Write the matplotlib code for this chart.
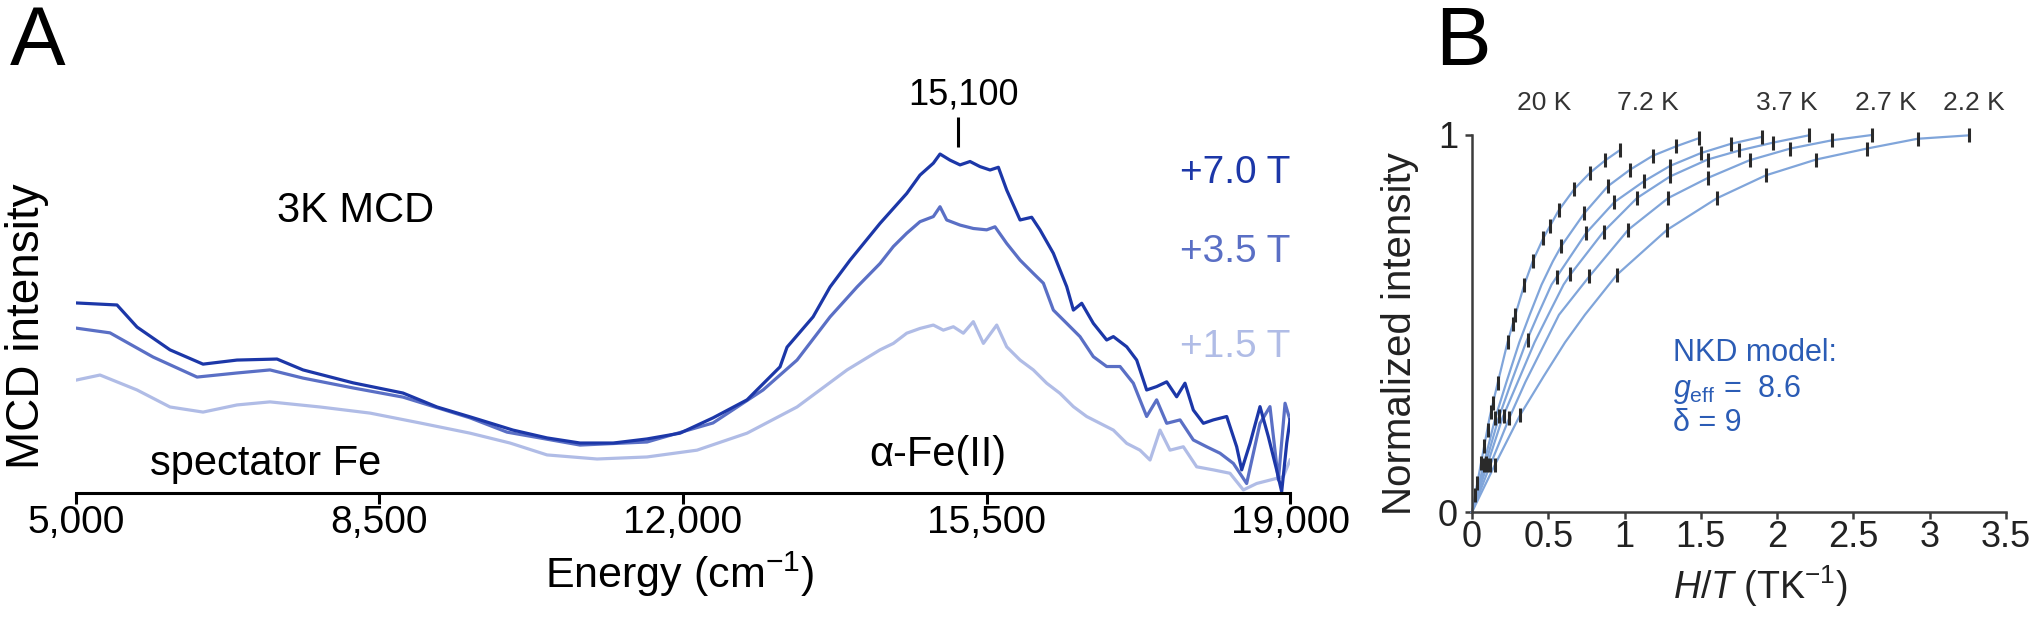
import matplotlib
matplotlib.use('Agg')
import matplotlib.pyplot as plt

plt.rcParams['font.family'] = ['Liberation Sans', 'DejaVu Sans']
plt.rcParams['mathtext.fontset'] = 'custom'
plt.rcParams['mathtext.rm'] = 'Liberation Sans'
plt.rcParams['mathtext.it'] = 'Liberation Sans:italic'

# ---- panel A: 3 K MCD spectra (energy in cm-1, intensity in arb. units)
energy_7T = [5000, 5473, 5704, 6084, 6465, 6857, 7318, 7618, 8195, 8771, 9163, 9544, 9659, 10040,
             10432, 10813, 11197, 11585, 11966, 12346, 12739, 13119, 13200, 13500, 13696, 13927,
             14272, 14426, 14580, 14733, 14887, 14964, 15079, 15195, 15310, 15425, 15541, 15637,
             15733, 15887, 16021, 16117, 16271, 16425, 16502, 16598, 16732, 16886, 16963, 17117,
             17232, 17347, 17462, 17578, 17693, 17789, 17885, 18001, 18116, 18270, 18385, 18443,
             18539, 18654, 18750, 18846, 18904, 18962, 19000]
mcd_7T = [0.559, 0.553, 0.488, 0.421, 0.379, 0.391, 0.394, 0.362, 0.324, 0.294, 0.253, 0.224, 0.215,
          0.185, 0.162, 0.147, 0.147, 0.159, 0.176, 0.221, 0.274, 0.371, 0.429, 0.518, 0.606, 0.685,
          0.793, 0.837, 0.881, 0.935, 0.970, 0.997, 0.979, 0.965, 0.975, 0.960, 0.950, 0.958, 0.891,
          0.803, 0.811, 0.774, 0.705, 0.607, 0.538, 0.558, 0.499, 0.450, 0.460, 0.430, 0.391, 0.303,
          0.313, 0.327, 0.283, 0.323, 0.244, 0.205, 0.215, 0.225, 0.136, 0.068, 0.146, 0.254, 0.166,
          0.068, 0.004, 0.146, 0.215]

energy_35T = [5000, 5392, 5888, 6396, 6857, 7237, 7618, 8195, 8771, 9544, 9971, 10813, 11585, 12346,
              12923, 13315, 13696, 14007, 14272, 14426, 14580, 14733, 14887, 14964, 15041, 15195,
              15348, 15502, 15598, 15733, 15887, 16040, 16156, 16271, 16425, 16578, 16732, 16886,
              17040, 17193, 17347, 17462, 17578, 17732, 17885, 18039, 18193, 18347, 18500, 18654,
              18769, 18866, 18943, 19000]
mcd_35T = [0.485, 0.471, 0.400, 0.341, 0.353, 0.362, 0.338, 0.309, 0.282, 0.221, 0.179, 0.141, 0.150,
           0.206, 0.303, 0.391, 0.518, 0.606, 0.675, 0.725, 0.764, 0.798, 0.813, 0.842, 0.803, 0.788,
           0.778, 0.774, 0.783, 0.734, 0.685, 0.646, 0.617, 0.538, 0.499, 0.460, 0.401, 0.372, 0.372,
           0.323, 0.225, 0.274, 0.205, 0.215, 0.156, 0.136, 0.117, 0.087, 0.028, 0.205, 0.254, 0.038,
           0.264, 0.215]

energy_15T = [5000, 5277, 5704, 6084, 6465, 6857, 7237, 7814, 8391, 8967, 9544, 10005, 10432, 11009,
              11585, 12162, 12739, 13315, 13892, 14272, 14426, 14580, 14733, 14887, 15002, 15118,
              15233, 15348, 15464, 15618, 15733, 15887, 16040, 16194, 16348, 16502, 16655, 16809,
              16963, 17117, 17270, 17386, 17501, 17616, 17770, 17924, 18116, 18308, 18462, 18616,
              18769, 18923, 19000]
mcd_15T = [0.332, 0.347, 0.303, 0.253, 0.238, 0.259, 0.268, 0.253, 0.235, 0.206, 0.176, 0.147, 0.112,
           0.100, 0.106, 0.126, 0.176, 0.253, 0.362, 0.421, 0.440, 0.470, 0.484, 0.494, 0.479, 0.489,
           0.470, 0.504, 0.440, 0.494, 0.430, 0.391, 0.362, 0.323, 0.293, 0.254, 0.225, 0.205, 0.185,
           0.146, 0.126, 0.097, 0.185, 0.126, 0.136, 0.077, 0.068, 0.058, 0.009, 0.028, 0.038, 0.048,
           0.097]

field_labels = ['+7.0 T', '+3.5 T', '+1.5 T']
field_colors = ['#1c37a8', '#5a6fc5', '#b0bce6']
field_label_y = [0.94, 0.71, 0.43]
energy_ticks = [5000, 8500, 12000, 15500, 19000]
energy_ticklabels = ['5,000', '8,500', '12,000', '15,500', '19,000']
peak_energy = 15170

# ---- panel B: VTVH saturation, fitted NKD curves (H/T in T/K, normalized intensity)
fit_ht = [
    [0, 0.057, 0.115, 0.17, 0.233, 0.284, 0.343, 0.398, 0.468, 0.568, 0.671, 0.774, 0.874, 0.97],
    [0, 0.076, 0.153, 0.226, 0.31, 0.378, 0.456, 0.53, 0.585, 0.737, 0.89, 1.036, 1.185, 1.338, 1.49],
    [0, 0.087, 0.175, 0.258, 0.354, 0.432, 0.521, 0.748, 0.933, 1.126, 1.298, 1.5, 1.70, 1.899],
    [0, 0.10, 0.20, 0.30, 0.41, 0.50, 0.60, 0.645, 0.863, 1.082, 1.298, 1.545, 1.753, 1.976, 2.206],
    [0, 0.12, 0.245, 0.35, 0.48, 0.57, 0.769, 1.025, 1.287, 1.545, 1.819, 2.086, 2.36, 2.621],
    [0, 0.15, 0.315, 0.47, 0.61, 0.74, 0.949, 1.277, 1.604, 1.926, 2.256, 2.588, 2.92, 3.255],
]
fit_int = [
    [0, 0.125, 0.25, 0.345, 0.45, 0.523, 0.603, 0.665, 0.727, 0.80, 0.857, 0.90, 0.933, 0.96],
    [0, 0.125, 0.25, 0.345, 0.45, 0.523, 0.603, 0.665, 0.705, 0.793, 0.864, 0.908, 0.945, 0.97, 0.992],
    [0, 0.125, 0.25, 0.345, 0.45, 0.523, 0.603, 0.74, 0.822, 0.877, 0.918, 0.952, 0.977, 0.995],
    [0, 0.125, 0.25, 0.345, 0.45, 0.523, 0.603, 0.63, 0.744, 0.833, 0.89, 0.935, 0.959, 0.98, 0.999],
    [0, 0.125, 0.25, 0.345, 0.45, 0.523, 0.625, 0.749, 0.833, 0.886, 0.933, 0.964, 0.986, 1.0],
    [0, 0.125, 0.257, 0.36, 0.45, 0.523, 0.629, 0.748, 0.832, 0.893, 0.935, 0.964, 0.99, 0.999],
]

# measured points (drawn as vertical bars)
point_ht = [0.02, 0.035, 0.059, 0.08, 0.103, 0.124, 0.14, 0.168, 0.234, 0.267, 0.284, 0.343, 0.398,
            0.468, 0.511, 0.568, 0.671, 0.774, 0.874, 0.97,
            0.076, 0.153, 0.585, 0.737, 0.89, 1.036, 1.185, 1.338, 1.49,
            0.09, 0.18, 0.365, 0.555, 0.748, 0.933, 1.126, 1.298, 1.5, 1.70, 1.899,
            0.10, 0.21, 0.645, 0.863, 1.082, 1.298, 1.545, 1.753, 1.976, 2.206,
            0.12, 0.245, 0.769, 1.025, 1.287, 1.545, 1.819, 2.086, 2.36, 2.621,
            0.15, 0.315, 0.949, 1.277, 1.604, 1.926, 2.256, 2.588, 2.92, 3.255]
point_int = [0.044, 0.077, 0.13, 0.175, 0.218, 0.265, 0.29, 0.341, 0.452, 0.50, 0.523, 0.603, 0.665,
             0.727, 0.758, 0.80, 0.857, 0.90, 0.933, 0.96,
             0.125, 0.25, 0.705, 0.793, 0.864, 0.908, 0.945, 0.97, 0.992,
             0.13, 0.255, 0.456, 0.623, 0.74, 0.822, 0.877, 0.918, 0.952, 0.977, 0.995,
             0.125, 0.255, 0.63, 0.744, 0.833, 0.89, 0.935, 0.959, 0.98, 0.999,
             0.125, 0.25, 0.625, 0.749, 0.833, 0.886, 0.933, 0.964, 0.986, 1.0,
             0.125, 0.257, 0.629, 0.748, 0.832, 0.893, 0.935, 0.964, 0.99, 0.999]

temp_labels = ['20 K', '7.2 K', '3.7 K', '2.7 K', '2.2 K']
temp_label_ht = [0.47, 1.15, 2.06, 2.71, 3.29]
ht_ticks = [0, 0.5, 1, 1.5, 2, 2.5, 3, 3.5]
ht_ticklabels = ['0', '0.5', '1', '1.5', '2', '2.5', '3', '3.5']

W, H = 2040, 632
fig = plt.figure(figsize=(W / 100, H / 100), dpi=100)


def fx(px):
    return px / W


def fy(py):
    return 1 - py / H


# ---------------- panel A
ax = fig.add_axes([fx(76), fy(493), (1290 - 76) / W, 425 / H])
series = [(energy_7T, mcd_7T), (energy_35T, mcd_35T), (energy_15T, mcd_15T)]
for (e, m), c in zip(series[::-1], field_colors[::-1]):
    ax.plot(e, m, color=c, lw=2.3, solid_joinstyle='round')
ax.set_xlim(5000, 19000)
ax.set_ylim(0, 1.25)
for s in ['left', 'right', 'top']:
    ax.spines[s].set_visible(False)
ax.spines['bottom'].set_linewidth(2.2)
ax.set_yticks([])
ax.set_xticks(energy_ticks)
ax.set_xticklabels(energy_ticklabels)
ax.tick_params(axis='x', direction='out', length=8, width=2.2, labelsize=28, pad=1)
ax.set_facecolor('none')

for lab, c, yv in zip(field_labels, field_colors, field_label_y):
    ax.text(19000, yv, lab, color=c, fontsize=28, ha='right', va='center')
ax.text(8229, 0.829, '3K MCD', fontsize=30, ha='center', va='center')
ax.text(7191, 0.053, 'spectator Fe', fontsize=30, ha='center', va='baseline')
ax.text(14941, 0.08, '\u03b1-Fe(II)', fontsize=30, ha='center', va='baseline')
ax.vlines(peak_energy, 1.018, 1.106, color='black', lw=2.2, clip_on=False)
ax.text(15230, 1.17, '15,100', fontsize=26, ha='center', va='center', clip_on=False)

fig.text(fx(27), fy(326), 'MCD intensity', rotation=90, fontsize=33, ha='center', va='center')
fig.text(fx(680), fy(574), 'Energy (cm$^{-1}$)', fontsize=31, ha='center', va='center')
fig.text(fx(10), fy(65), 'A', fontsize=60, ha='left', va='baseline')

# ---------------- panel B
ax2 = fig.add_axes([fx(1472), fy(512), 534 / W, 377 / H])
for xs, ys in zip(fit_ht, fit_int):
    ax2.plot(xs, ys, color='#80a5da', lw=1.6, clip_on=False, zorder=2)
ax2.plot(point_ht, point_int, ls='none', marker='|', ms=10, mew=2.2, color='#2a2a2a',
         clip_on=False, zorder=3)
ax2.set_xlim(0, 3.5)
ax2.set_ylim(0, 1)
for s in ['right', 'top']:
    ax2.spines[s].set_visible(False)
for s in ['left', 'bottom']:
    ax2.spines[s].set_linewidth(1.8)
    ax2.spines[s].set_color('#3c3c3c')
ax2.set_xticks(ht_ticks)
ax2.set_xticklabels(ht_ticklabels)
ax2.set_yticks([0, 1])
ax2.set_yticklabels(['0', '1'])
ax2.tick_params(direction='out', length=5, width=1.8, color='#3c3c3c', labelsize=26,
                labelcolor='#222222', pad=5)
ax2.tick_params(axis='x', pad=1)
ax2.set_facecolor('none')

for lab, xv in zip(temp_labels, temp_label_ht):
    ax2.text(xv, 1.085, lab, fontsize=19, color='#333333', ha='center', va='center', clip_on=False)
blue = '#2b5cb5'
ax2.text(1.32, 0.40, 'NKD model:', fontsize=22, color=blue, ha='left', va='baseline')
ax2.text(1.32, 0.305, r'$g_{\mathrm{eff}}$ =  8.6', fontsize=22, color=blue, ha='left', va='baseline')
ax2.text(1.32, 0.215, '\u03b4 = 9', fontsize=22, color=blue, ha='left', va='baseline')

fig.text(fx(1400), fy(334), 'Normalized intensity', rotation=90, fontsize=29,
         ha='center', va='center', color='#222222')
fig.text(fx(1760), fy(586), '$H/T$ (TK$^{-1}$)', fontsize=27, ha='center', va='center',
         color='#222222')
fig.text(fx(1435), fy(65), 'B', fontsize=60, ha='left', va='baseline')

fig.savefig('out.png', dpi=100)
